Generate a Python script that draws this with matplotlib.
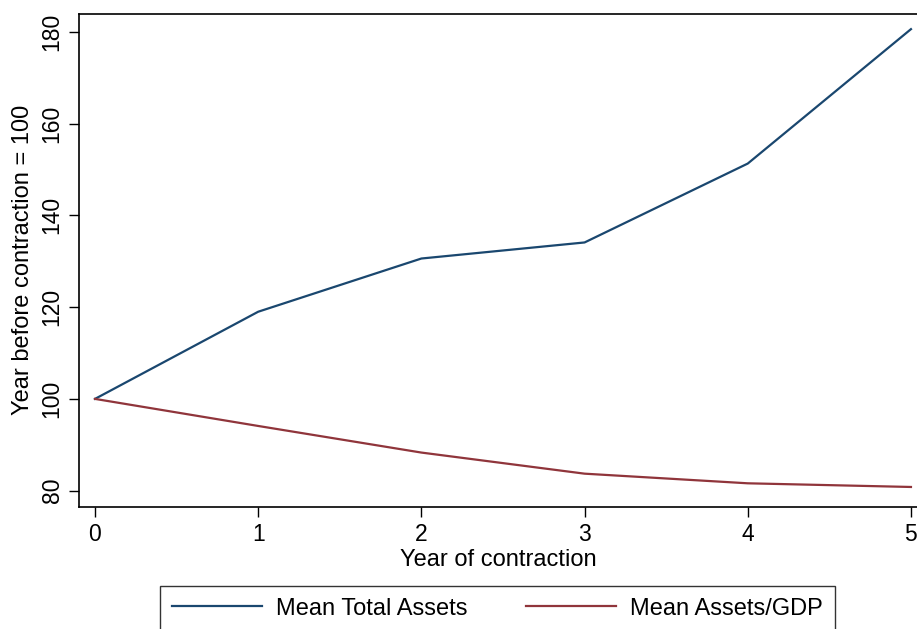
import matplotlib
matplotlib.use("Agg")
import matplotlib.pyplot as plt

years = [0, 1, 2, 3, 4, 5]
total_assets = [100, 119.0, 130.6, 134.1, 151.3, 180.6]
assets_gdp = [100, 94.1, 88.3, 83.7, 81.6, 80.8]
xticks = [0, 1, 2, 3, 4, 5]
yticks = [80, 100, 120, 140, 160, 180]
labels = ["Mean Total Assets", "Mean Assets/GDP"]
blue = "#1a476f"
red = "#90353b"

plt.rcParams['font.family'] = ['Liberation Sans', 'DejaVu Sans']

fig = plt.figure(figsize=(9.17, 6.29), dpi=100)
ax = fig.add_axes([79/917, 1 - 506.7/629, 1 - 79/917, (506.7 - 14)/629])

l1, = ax.plot(years, total_assets, color=blue, lw=1.6, label=labels[0])
l2, = ax.plot(years, assets_gdp, color=red, lw=1.6, label=labels[1])

ax.set_xlim(-0.098, 5.037)
ax.set_ylim(76.5, 183.9)
ax.set_xticks(xticks)
ax.set_yticks(yticks)
ax.spines['right'].set_visible(False)
for s in ['left', 'bottom', 'top']:
    ax.spines[s].set_linewidth(1.2)
ax.tick_params(axis='both', direction='out', length=7, width=1.0, labelsize=16.5)
ax.tick_params(axis='y', labelrotation=90, pad=4)
ax.tick_params(axis='x', pad=5)
for lab in ax.get_yticklabels():
    lab.set_va('center')
ax.set_xlabel("Year of contraction", fontsize=17, labelpad=2)
ax.set_ylabel("Year before contraction = 100", fontsize=17, labelpad=5)

leg = fig.legend(handles=[l1, l2], labels=labels, ncol=2, loc='upper left',
                 bbox_to_anchor=(160/917, 1 - 585.7/629), frameon=True,
                 fancybox=False, edgecolor='black', fontsize=17,
                 handlelength=3.8, columnspacing=2.5, handletextpad=0.6,
                 borderpad=0.5, borderaxespad=0)
leg.get_frame().set_linewidth(1.0)

fig.savefig("out.png", dpi=100)
